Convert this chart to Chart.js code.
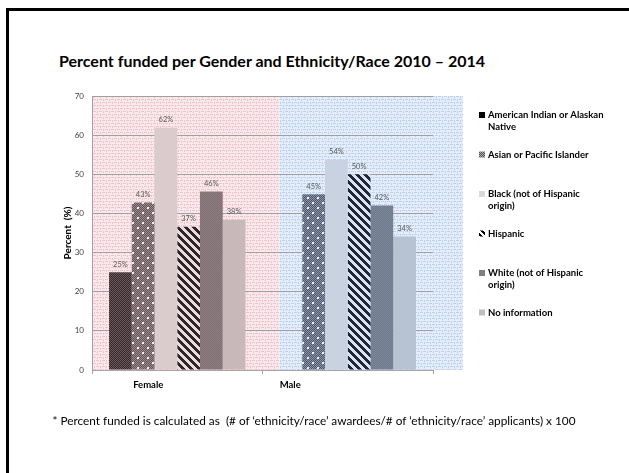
<!DOCTYPE html>
<html>
<head>
<meta charset="utf-8">
<script src="https://cdn.jsdelivr.net/npm/chart.js@4.4.0/dist/chart.umd.min.js"></script>
<style>
  body { margin: 0; background: #fff; width: 629px; height: 473px; overflow: hidden; position: relative; font-family: Lato, 'Open Sans', sans-serif; }
  #marco { position: absolute; left: 6px; top: 8px; width: 700px; height: 500px; border-top: 3px solid #000; border-left: 3px solid #000; }
  #titulo { position: absolute; left: 0; top: 51px; width: 544px; text-align: center; font-weight: bold; font-size: 16px; color: #000; }
  #nota { position: absolute; left: 0; top: 413px; width: 628px; text-align: center; font-size: 11.8px; color: #000; white-space: nowrap; }
  #grafico { position: absolute; left: 0; top: 0; }
</style>
</head>
<body>
<div id="marco"></div>
<div id="titulo">Percent funded per Gender and Ethnicity/Race 2010 – 2014</div>
<canvas id="grafico" width="629" height="473"></canvas>
<div id="nota">* Percent funded is calculated as &nbsp;(# of ‘ethnicity/race’ awardees/# of ‘ethnicity/race’ applicants) x 100</div>
<script>
// datos
const categorias = ['Female', 'Male'];
const grupos = ['American Indian or Alaskan Native', 'Asian or Pacific Islander', 'Black (not of Hispanic origin)', 'Hispanic', 'White (not of Hispanic origin)', 'No information'];
const indioAmericano = [25, null];
const asiatico = [42.8, 44.9];
const negro = [61.9, 53.7];
const hispano = [36.6, 50];
const blanco = [45.6, 42];
const sinInfo = [38.4, 34.1];
const ticksY = [0, 10, 20, 30, 40, 50, 60, 70];

Chart.defaults.font.family = 'Lato, "Open Sans", sans-serif';

// crea un patron a partir de un canvas chico
function crearPatron(tam, base, dibujo) {
    const c = document.createElement('canvas');
    c.width = tam;
    c.height = tam;
    const g = c.getContext('2d');
    g.fillStyle = base;
    g.fillRect(0, 0, tam, tam);
    if (dibujo) dibujo(g, tam);
    return g.createPattern(c, 'repeat');
}

const ajedrez = (color) => (g, tam) => {
    g.fillStyle = color;
    for (let y = 0; y < tam; y++) {
        for (let x = 0; x < tam; x++) {
            if ((x + y) % 2 === 0) g.fillRect(x, y, 1, 1);
        }
    }
};
const puntos = (color, punto) => (g, tam) => {
    ajedrez(color)(g, tam);
    g.fillStyle = punto;
    g.fillRect(2, 2, 2, 2);
    g.fillRect(7, 7, 2, 2);
};
const rayas = (oscuro) => (g, tam) => {
    g.fillStyle = oscuro;
    for (let y = 0; y < tam; y++) {
        for (let x = 0; x < tam; x++) {
            if ((y - x + tam) % tam < tam / 2) g.fillRect(x, y, 1, 1);
        }
    }
};
const malla = (color) => (g) => {
    g.fillStyle = color;
    g.fillRect(0, 0, 3, 1);
    g.fillRect(1, 3, 1, 2);
    g.fillRect(3, 3, 3, 1);
    g.fillRect(4, 0, 1, 2);
};

// fondo rosado (Female) y azul (Male)
const patronRosa = crearPatron(6, '#f9e9ec', malla('#efc3cb'));
const patronAzul = crearPatron(6, '#e4edf9', malla('#bcd1ee'));

// colores de cada serie: [Female, Male]
const estilos = [
    [crearPatron(4, '#34272a', ajedrez('#6e5a5e')), crearPatron(4, '#2a3040', ajedrez('#5a6478'))],
    [crearPatron(10, '#625457', puntos('#9b8b8e', '#f4eeee')), crearPatron(10, '#4e586a', puntos('#8a95a8', '#eef2f8'))],
    [crearPatron(4, '#d8c9cb', ajedrez('#dccdcf')), crearPatron(4, '#c6d0de', ajedrez('#cad4e2'))],
    [crearPatron(8, '#eadcde', rayas('#2f2427')), crearPatron(8, '#dbe4f2', rayas('#1f2636'))],
    [crearPatron(4, '#8d7d80', ajedrez('#806f73')), crearPatron(4, '#6e798c', ajedrez('#7d889a'))],
    [crearPatron(4, '#cbbbbd', ajedrez('#c6b6b8')), crearPatron(4, '#b5c1d0', ajedrez('#bac5d3'))]
];
const marcadores = [
    '#000000',
    crearPatron(4, '#555555', ajedrez('#aaaaaa')),
    '#d9d9d9',
    crearPatron(6, '#ffffff', rayas('#000000')),
    '#808080',
    '#bfbfbf'
];

const series = [indioAmericano, asiatico, negro, hispano, blanco, sinInfo];

const fondo = {
    id: 'fondo',
    beforeDraw(chart) {
        const { ctx, chartArea: a, scales: { x } } = chart;
        const grupo = (x.getPixelForValue(1) - x.getPixelForValue(0)) * 0.8;
        const corte = x.getPixelForValue(1) - grupo / 2;
        ctx.save();
        ctx.fillStyle = patronRosa;
        ctx.fillRect(a.left, a.top, corte - a.left, a.bottom - a.top);
        ctx.fillStyle = patronAzul;
        ctx.fillRect(corte, a.top, a.right + 30 - corte, a.bottom - a.top);
        ctx.restore();
    }
};

// porcentajes arriba de cada barra
const etiquetas = {
    id: 'etiquetas',
    afterDatasetsDraw(chart) {
        const ctx = chart.ctx;
        ctx.save();
        ctx.font = '7.5px Lato, sans-serif';
        ctx.fillStyle = '#595959';
        ctx.textAlign = 'center';
        ctx.textBaseline = 'bottom';
        chart.data.datasets.forEach((ds, i) => {
            chart.getDatasetMeta(i).data.forEach((barra, j) => {
                if (ds.data[j] == null) return;
                ctx.fillText(Math.round(ds.data[j]) + '%', barra.x, barra.y - 4);
            });
        });
        ctx.restore();
    }
};

// leyenda a la derecha, con texto en varias lineas
const leyenda = {
    id: 'leyenda',
    afterDraw(chart) {
        const { ctx, chartArea: a } = chart;
        const x0 = a.right + 46;
        let y = a.top + 19;
        ctx.save();
        ctx.font = 'bold 9.5px Lato, sans-serif';
        ctx.textBaseline = 'middle';
        ctx.textAlign = 'left';
        chart.data.datasets.forEach((ds, i) => {
            const palabras = ds.label.split(' ');
            const lineas = [];
            let actual = '';
            palabras.forEach(p => {
                const prueba = actual ? actual + ' ' + p : p;
                if (ctx.measureText(prueba).width > 119 && actual) {
                    lineas.push(actual);
                    actual = p;
                } else {
                    actual = prueba;
                }
            });
            lineas.push(actual);
            ctx.fillStyle = marcadores[i];
            ctx.fillRect(x0, y - 3, 6, 6);
            ctx.fillStyle = '#000';
            lineas.forEach((l, k) => ctx.fillText(l, x0 + 9, y + k * 11.5));
            y += 39.5;
        });
        ctx.restore();
    }
};

const ctx = document.getElementById('grafico').getContext('2d');
const grafico = new Chart(ctx, {
    type: 'bar',
    data: {
        labels: categorias,
        datasets: series.map((datos, i) => ({
            label: grupos[i],
            data: datos,
            backgroundColor: estilos[i],
            borderWidth: 0,
            categoryPercentage: 0.8,
            barPercentage: 1
        }))
    },
    options: {
        responsive: false,
        animation: false,
        devicePixelRatio: 1,
        layout: { padding: { left: 52, right: 196, top: 96, bottom: 73 } },
        plugins: {
            legend: { display: false },
            tooltip: { enabled: false }
        },
        scales: {
            x: {
                afterFit: s => { s.height = 30; },
                grid: { drawOnChartArea: false, offset: true, tickLength: 4, color: '#a6a6a6' },
                border: { color: '#a6a6a6' },
                ticks: {
                    color: '#000',
                    font: { size: 9.5, weight: 'bold' },
                    padding: 5,
                    labelOffset: -29,
                    // en el original "Male" esta mas corrido a la izquierda
                    callback: (v, i) => i === 1 ? categorias[i] + '\u2003'.repeat(8) : categorias[i]
                }
            },
            y: {
                min: 0,
                max: 70,
                afterFit: s => { s.width = 40; },
                afterBuildTicks: s => { s.ticks = ticksY.map(v => ({ value: v })); },
                grid: { color: '#a0a0a0', drawTicks: false },
                border: { color: '#a0a0a0' },
                ticks: { color: '#404040', font: { size: 8 }, padding: 8 },
                title: {
                    display: true,
                    text: 'Percent  (%)',
                    color: '#000',
                    font: { size: 10, weight: 'bold' },
                    padding: { top: 10, bottom: 0 }
                }
            }
        }
    },
    plugins: [fondo, etiquetas, leyenda]
});
</script>
</body>
</html>
